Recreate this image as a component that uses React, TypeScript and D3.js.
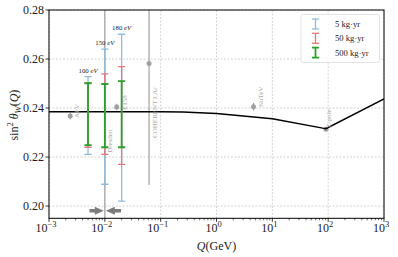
import React from "react";
import * as d3 from "d3";

// ---------- data ----------
const runQ = [0.001, 0.1, 0.25, 1, 10, 80, 91.19, 1000];
const runS = [0.2385, 0.2385, 0.2384, 0.2378, 0.2356, 0.2318, 0.2316, 0.2437];

const forecastQ = [0.005, 0.01, 0.02];
const forecastLabels = ["100", "150", "180"];
const blueLo = [0.2211, 0.2089, 0.202];
const blueHi = [0.2528, 0.264, 0.2701];
const redLo = [0.224, 0.2211, 0.217];
const redHi = [0.2503, 0.2539, 0.2569];
const greenLo = [0.2249, 0.224, 0.224];
const greenHi = [0.2501, 0.2498, 0.251];

const measNames = ["APV", "Dresden", "E158", "COHERENT LAr", "NuTeV", "Z-pole"];
const measQ = [0.0024, 0.01, 0.0163, 0.062, 4.6, 91.19];
const measS = [0.2367, 0.32, 0.2404, 0.2582, 0.2405, 0.2313];
const measLo = [0.2353, 0.1, 0.2391, 0.2086, 0.2389, 0.2311];
const measHi = [0.2381, 0.5, 0.2417, 0.32, 0.2421, 0.2315];
const labelBottom = [0.2359, 0.2217, 0.2392, 0.2278, 0.2404, 0.2318];
const labelOffset = [9, 7.5, 10, 8, 9, 5];

const arrowQ = [0.0053, 0.0195];
const arrowS = 0.1981;

const xTicks = [-3, -2, -1, 0, 1, 2, 3];
const yTicks = [0.2, 0.22, 0.24, 0.26, 0.28];
const legendLabels = ["5 kg·yr", "50 kg·yr", "500 kg·yr"];

// ---------- layout ----------
const W = 398, H = 257;
const L = 49, R = 384, T = 10, B = 218.3;
const x = d3.scaleLog().domain([1e-3, 1e3]).range([L, R]);
const y = d3.scaleLinear().domain([0.195, 0.28]).range([B, T]);

const BLUE = "#8fbbdb";
const RED = "#e5777c";
const GREEN = "#2ca02c";
const GREY = "#a0a0a0";
const FONT = "'Liberation Serif', 'DejaVu Serif', serif";

function ErrBar({ q, lo, hi, color, w, cap }: any) {
  const cx = x(q);
  return (
    <g stroke={color} strokeWidth={w}>
      <line x1={cx} x2={cx} y1={y(lo)} y2={y(hi)} />
      <line x1={cx - cap} x2={cx + cap} y1={y(lo)} y2={y(lo)} />
      <line x1={cx - cap} x2={cx + cap} y1={y(hi)} y2={y(hi)} />
    </g>
  );
}

export default function App() {
  const line = d3
    .line<number>()
    .x((_, i) => x(runQ[i]))
    .y((d) => y(d));
  const minor: number[] = [];
  for (let e = -3; e < 3; e++) for (let k = 2; k <= 9; k++) minor.push(k * Math.pow(10, e));

  const ay = y(arrowS);
  const midQ = 0.01;
  const mx = x(midQ);
  return (
    <svg width={W} height={H} style={{ position: "absolute", left: 0, top: 0 }} fontFamily={FONT}>
      <rect width={W} height={H} fill="#fff" />
      <defs>
        <clipPath id="clip">
          <rect x={L} y={T} width={R - L} height={B - T} />
        </clipPath>
      </defs>
      {/* grid */}
      <g stroke="#c8c8c8" strokeWidth={0.8} strokeDasharray="2,1.5">
        {xTicks.map((e) => (
          <line key={e} x1={x(Math.pow(10, e))} x2={x(Math.pow(10, e))} y1={T} y2={B} />
        ))}
        {yTicks.map((v) => (
          <line key={v} x1={L} x2={R} y1={y(v)} y2={y(v)} />
        ))}
      </g>
      <g clipPath="url(#clip)">
        {/* measurements */}
        {measQ.map((q, i) => (
          <g key={i}>
            <line x1={x(q)} x2={x(q)} y1={y(measLo[i])} y2={y(measHi[i])} stroke={GREY} strokeWidth={1.2} />
            <circle cx={x(q)} cy={y(measS[i])} r={2.5} fill={GREY} />
          </g>
        ))}
        {/* running line */}
        <path d={line(runS) || ""} fill="none" stroke="#000" strokeWidth={1.5} />
        {/* forecasts */}
        {forecastQ.map((q, i) => (
          <g key={i}>
            <ErrBar q={q} lo={blueLo[i]} hi={blueHi[i]} color={BLUE} w={1.3} cap={3.6} />
            <ErrBar q={q} lo={redLo[i]} hi={redHi[i]} color={RED} w={1.3} cap={3.6} />
            <ErrBar q={q} lo={greenLo[i]} hi={greenHi[i]} color={GREEN} w={1.8} cap={3.6} />
          </g>
        ))}
        {/* arrows */}
        <g fill="#7c7c7c" stroke="#7c7c7c">
          <line x1={x(arrowQ[0])} x2={mx - 6} y1={ay} y2={ay} strokeWidth={3.4} />
          <polygon points={`${mx - 1},${ay} ${mx - 10},${ay - 4} ${mx - 10},${ay + 4}`} stroke="none" />
          <line x1={x(arrowQ[1])} x2={mx + 6} y1={ay} y2={ay} strokeWidth={3.4} />
          <polygon points={`${mx + 1},${ay} ${mx + 10},${ay - 4} ${mx + 10},${ay + 4}`} stroke="none" />
        </g>
      </g>
      {/* measurement labels */}
      {measNames.map((n, i) => {
        const lx = x(measQ[i]) + labelOffset[i];
        const ly = y(labelBottom[i]);
        return (
          <text key={n} transform={`translate(${lx},${ly}) rotate(-90)`} fontSize={7} fill="#a8a8a8">
            {n}
          </text>
        );
      })}
      {/* forecast labels */}
      {forecastQ.map((q, i) => (
        <text key={i} x={x(q)} y={y(blueHi[i]) - 4} textAnchor="middle" fontSize={6.8} fill="#222">
          {forecastLabels[i]}
          <tspan fontStyle="italic"> eV</tspan>
        </text>
      ))}
      {/* axes frame */}
      <rect x={L} y={T} width={R - L} height={B - T} fill="none" stroke="#000" strokeWidth={1} />
      {/* ticks */}
      <g stroke="#000" strokeWidth={0.8}>
        {xTicks.map((e) => (
          <line key={e} x1={x(Math.pow(10, e))} x2={x(Math.pow(10, e))} y1={B} y2={B + 3.5} />
        ))}
        {minor.map((m) => (
          <line key={m} x1={x(m)} x2={x(m)} y1={B} y2={B + 2} strokeWidth={0.6} />
        ))}
        {yTicks.map((v) => (
          <line key={v} x1={L - 3.5} x2={L} y1={y(v)} y2={y(v)} />
        ))}
      </g>
      {xTicks.map((e) => (
        <text key={e} x={x(Math.pow(10, e)) - 3} y={232} textAnchor="middle" fontSize={12} fill="#222">
          10
          <tspan dy={-5} fontSize={8.5}>{e < 0 ? "−" + -e : e}</tspan>
        </text>
      ))}
      {yTicks.map((v) => (
        <text key={v} x={L - 5} y={y(v) + 4.2} textAnchor="end" fontSize={12} fill="#222">
          {v.toFixed(2)}
        </text>
      ))}
      {/* axis labels */}
      <text x={(L + R) / 2} y={250} textAnchor="middle" fontSize={12} fill="#222">
        <tspan fontStyle="italic">Q</tspan>(GeV)
      </text>
      <text transform={`translate(18,${(T + B) / 2 + 1}) rotate(-90)`} textAnchor="middle" fontSize={12} fill="#222">
        sin
        <tspan dy={-5} fontSize={8.5}>2</tspan>
        <tspan dy={5} fontStyle="italic"> θ</tspan>
        <tspan dy={3} fontSize={8.5} fontStyle="italic">W</tspan>
        <tspan dy={-3}>(</tspan>
        <tspan fontStyle="italic">Q</tspan>)
      </text>
      {/* legend */}
      <g>
        <rect x={301} y={14.5} width={78.5} height={48} rx={2} fill="#fff" fillOpacity={0.85} stroke="#dcdcdc" strokeWidth={0.8} />
        {[BLUE, RED, GREEN].map((c, i) => {
          const ly = 24 + i * 14.3;
          const lx = 315.5;
          return (
            <g key={i}>
              <g stroke={c} strokeWidth={i === 2 ? 1.8 : 1.3}>
                <line x1={lx} x2={lx} y1={ly - 5} y2={ly + 5} />
                <line x1={lx - 3.6} x2={lx + 3.6} y1={ly - 5} y2={ly - 5} />
                <line x1={lx - 3.6} x2={lx + 3.6} y1={ly + 5} y2={ly + 5} />
              </g>
              <text x={335} y={ly + 3} fontSize={8.6} fill="#222">
                {legendLabels[i]}
              </text>
            </g>
          );
        })}
      </g>
    </svg>
  );
}
